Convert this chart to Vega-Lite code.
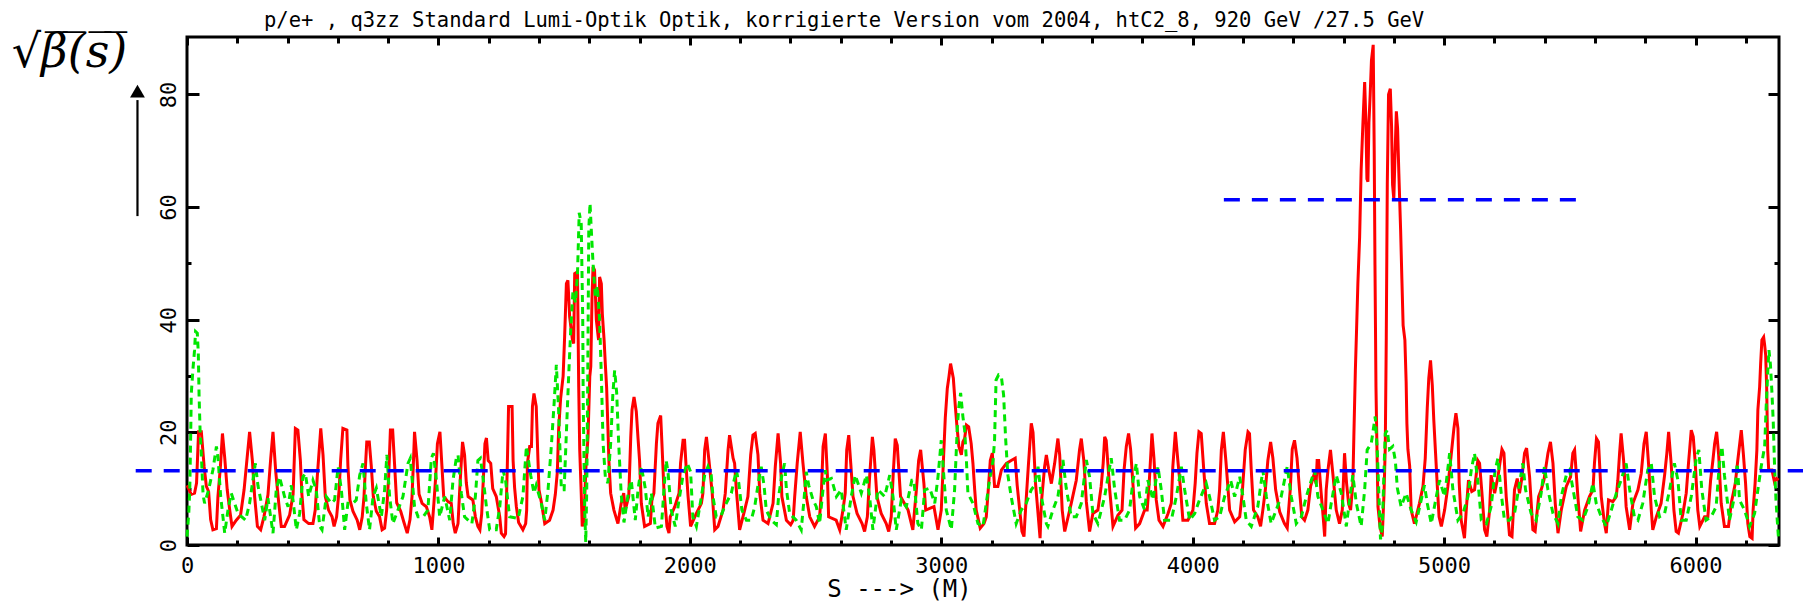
{
"$schema": "https://vega.github.io/schema/vega-lite/v6.json",
"width": 1592, "height": 508,
"autosize": {"type": "none"},
"padding": {"left": 187, "top": 37, "right": 24, "bottom": 57},
"background": "white",
"title": {"text": "p/e+ , q3zz Standard Lumi-Optik Optik, korrigierte Version vom 2004, htC2_8, 920 GeV /27.5 GeV", "anchor": "start", "frame": "group", "dx": 77, "dy": 30, "offset": 8, "baseline": "bottom", "font": "DejaVu Sans Mono", "fontSize": 20.5, "fontWeight": "normal", "color": "#000"},
"config": {
  "view": {"stroke": "#000", "strokeWidth": 3},
  "axis": {"grid": false, "domain": false, "tickColor": "#000", "labelColor": "#000", "titleColor": "#000", "labelFont": "DejaVu Sans Mono", "labelFontSize": 22, "tickWidth": 3}
},
"datasets": {
"red": [
{"s":0,"v":10.6},{"s":17,"v":9},{"s":30,"v":9.2},{"s":38,"v":11},{"s":46,"v":20.1},{"s":57,"v":20.1},{"s":68,"v":14},{"s":77,"v":10.4},{"s":86,"v":9.5},{"s":94,"v":4.5},{"s":103,"v":2.7},{"s":117,"v":2.9},{"s":123,"v":8.6},{"s":133,"v":14},{"s":141,"v":19.8},{"s":150,"v":15.5},{"s":160,"v":9.8},{"s":170,"v":6.2},{"s":179,"v":3.3},{"s":196,"v":4.4},{"s":213,"v":5.3},{"s":227,"v":9.8},{"s":237,"v":14.5},{"s":249,"v":20.1},{"s":260,"v":15},{"s":269,"v":8.6},{"s":280,"v":3.3},{"s":293,"v":2.7},{"s":306,"v":5},{"s":322,"v":8.9},{"s":333,"v":15.4},{"s":342,"v":20.1},{"s":353,"v":13},{"s":365,"v":7.4},{"s":375,"v":3.3},{"s":388,"v":3.3},{"s":408,"v":5.3},{"s":422,"v":9},{"s":431,"v":20.7},{"s":441,"v":20.4},{"s":451,"v":15},{"s":457,"v":9},{"s":465,"v":4.5},{"s":484,"v":3.8},{"s":501,"v":3.8},{"s":510,"v":6.2},{"s":518,"v":12},{"s":532,"v":20.7},{"s":541,"v":16},{"s":550,"v":8.6},{"s":563,"v":6.2},{"s":577,"v":5},{"s":585,"v":3.3},{"s":595,"v":5},{"s":605,"v":9.8},{"s":611,"v":15},{"s":620,"v":20.7},{"s":636,"v":20.4},{"s":640,"v":14},{"s":648,"v":8},{"s":660,"v":6},{"s":677,"v":4.4},{"s":687,"v":2.7},{"s":697,"v":5},{"s":704,"v":8.6},{"s":709,"v":13.3},{"s":715,"v":18.3},{"s":725,"v":18.3},{"s":733,"v":14},{"s":741,"v":8.6},{"s":753,"v":6},{"s":766,"v":5},{"s":776,"v":2.7},{"s":786,"v":3},{"s":794,"v":6.2},{"s":802,"v":12},{"s":809,"v":20.4},{"s":818,"v":20.4},{"s":826,"v":14},{"s":834,"v":7.5},{"s":850,"v":6},{"s":863,"v":4},{"s":876,"v":2.1},{"s":887,"v":4.5},{"s":895,"v":8.6},{"s":900,"v":14},{"s":905,"v":20.1},{"s":915,"v":15},{"s":923,"v":9},{"s":935,"v":7.4},{"s":952,"v":6.8},{"s":965,"v":5},{"s":974,"v":2.7},{"s":982,"v":7.4},{"s":989,"v":12},{"s":996,"v":18},{"s":1006,"v":20.1},{"s":1014,"v":14},{"s":1021,"v":8.6},{"s":1038,"v":7.7},{"s":1051,"v":7.4},{"s":1059,"v":3.8},{"s":1067,"v":2.1},{"s":1078,"v":3.8},{"s":1084,"v":9.2},{"s":1090,"v":14},{"s":1096,"v":18.3},{"s":1104,"v":16},{"s":1111,"v":11},{"s":1118,"v":8.6},{"s":1137,"v":8},{"s":1147,"v":5},{"s":1157,"v":3.3},{"s":1165,"v":2.7},{"s":1172,"v":5.5},{"s":1179,"v":12},{"s":1185,"v":18},{"s":1191,"v":19},{"s":1198,"v":15},{"s":1208,"v":14.5},{"s":1216,"v":10},{"s":1230,"v":8.6},{"s":1244,"v":5},{"s":1250,"v":2.1},{"s":1261,"v":1.5},
{"s":1267,"v":2},{"s":1274,"v":14},{"s":1279,"v":24.6},{"s":1293,"v":24.6},{"s":1297,"v":15},{"s":1303,"v":10.2},{"s":1310,"v":6.8},{"s":1319,"v":4},{"s":1336,"v":2.7},{"s":1347,"v":3.8},{"s":1351,"v":6.2},{"s":1354,"v":14.5},{"s":1363,"v":17.5},{"s":1370,"v":17.5},{"s":1374,"v":24.6},{"s":1380,"v":26.9},{"s":1389,"v":24.6},{"s":1396,"v":15},{"s":1400,"v":9.8},{"s":1409,"v":7.7},{"s":1423,"v":3.8},{"s":1442,"v":4.4},{"s":1456,"v":6.2},{"s":1465,"v":9},{"s":1473,"v":13},{"s":1478,"v":20.4},{"s":1486,"v":26},{"s":1496,"v":30},{"s":1502,"v":37},{"s":1509,"v":46.4},{"s":1515,"v":47},{"s":1522,"v":40.5},{"s":1533,"v":36.4},{"s":1538,"v":35.8},{"s":1542,"v":48.2},{"s":1553,"v":48.5},{"s":1558,"v":28},{"s":1562,"v":16.9},{"s":1568,"v":9.2},{"s":1572,"v":3.3},{"s":1579,"v":4.4},{"s":1586,"v":13.3},{"s":1595,"v":19.2},{"s":1602,"v":29.9},{"s":1606,"v":31.7},{"s":1611,"v":44},{"s":1615,"v":49.4},{"s":1621,"v":48.8},{"s":1628,"v":40},{"s":1637,"v":36.4},{"s":1641,"v":47.6},{"s":1648,"v":46.4},{"s":1652,"v":41},{"s":1659,"v":36.4},{"s":1664,"v":32},{"s":1669,"v":28},{"s":1674,"v":21},{"s":1678,"v":15},{"s":1685,"v":9.2},{"s":1698,"v":6.2},{"s":1714,"v":3.8},{"s":1727,"v":7.4},{"s":1737,"v":9.2},{"s":1743,"v":6.2},{"s":1757,"v":8.6},{"s":1765,"v":19.2},{"s":1770,"v":24},{"s":1778,"v":26.3},{"s":1787,"v":23.7},{"s":1794,"v":18.9},{"s":1800,"v":15},{"s":1807,"v":7.4},{"s":1820,"v":3.3},{"s":1843,"v":3.8},{"s":1849,"v":8},{"s":1857,"v":9.2},{"s":1867,"v":18},{"s":1873,"v":21.6},{"s":1884,"v":23},{"s":1889,"v":18},{"s":1897,"v":9.8},{"s":1909,"v":3.3},{"s":1917,"v":2.1},{"s":1922,"v":5},{"s":1940,"v":6.8},{"s":1957,"v":9.2},{"s":1963,"v":14.5},{"s":1973,"v":18.6},{"s":1979,"v":18.6},{"s":1986,"v":13.3},{"s":1993,"v":8.6},{"s":2003,"v":3.3},{"s":2026,"v":5.6},{"s":2046,"v":7.4},{"s":2052,"v":9.2},{"s":2059,"v":16.9},{"s":2066,"v":19.2},{"s":2076,"v":15},{"s":2089,"v":9.2},{"s":2099,"v":2.7},{"s":2112,"v":3.3},{"s":2132,"v":6.2},{"s":2141,"v":9.2},{"s":2152,"v":16.9},{"s":2158,"v":19.5},{"s":2172,"v":15.4},{"s":2178,"v":14.5},{"s":2185,"v":9.8},{"s":2198,"v":2.7},{"s":2218,"v":6.2},{"s":2231,"v":8.6},{"s":2242,"v":16},{"s":2251,"v":19.5},{"s":2260,"v":19.8},{"s":2271,"v":16},{"s":2278,"v":9.2},{"s":2291,"v":4.4},{"s":2311,"v":3.8},{"s":2331,"v":7.4},{"s":2340,"v":14},{"s":2351,"v":19.8},{"s":2361,"v":14.5},{"s":2366,"v":8.6},{"s":2384,"v":4.4},{"s":2401,"v":3.6},{"s":2411,"v":4.4},{"s":2417,"v":8.6},{"s":2427,"v":14.5},{"s":2439,"v":20.1},{"s":2450,"v":14.5},{"s":2463,"v":8.6},{"s":2477,"v":5},{"s":2496,"v":3.3},{"s":2516,"v":5},{"s":2523,"v":9.2},{"s":2530,"v":17.5},{"s":2539,"v":19.8},
{"s":2547,"v":12.4},{"s":2552,"v":5},{"s":2582,"v":4.4},{"s":2596,"v":2.7},{"s":2609,"v":6.2},{"s":2618,"v":9.2},{"s":2624,"v":16.9},{"s":2632,"v":19.5},{"s":2640,"v":14.5},{"s":2649,"v":8.6},{"s":2665,"v":5.6},{"s":2685,"v":3.8},{"s":2695,"v":2.4},{"s":2706,"v":5},{"s":2715,"v":12.1},{"s":2726,"v":19.2},{"s":2732,"v":16.9},{"s":2744,"v":8.6},{"s":2761,"v":5.6},{"s":2781,"v":3.8},{"s":2791,"v":2.4},{"s":2801,"v":5},{"s":2809,"v":12.7},{"s":2817,"v":18.9},{"s":2825,"v":17.7},{"s":2838,"v":8.6},{"s":2868,"v":6.2},{"s":2887,"v":2.7},{"s":2901,"v":9.8},{"s":2910,"v":15},{"s":2918,"v":16.9},{"s":2931,"v":10.9},{"s":2938,"v":6.2},{"s":2971,"v":6.8},{"s":2987,"v":2.7},{"s":3000,"v":6.2},{"s":3009,"v":15.4},{"s":3016,"v":22.6},{"s":3024,"v":27.8},{"s":3031,"v":30},{"s":3037,"v":32.2},{"s":3048,"v":29.6},{"s":3056,"v":24.6},{"s":3062,"v":21.3},{"s":3070,"v":17.5},{"s":3080,"v":16},{"s":3086,"v":18.3},{"s":3093,"v":18.9},{"s":3100,"v":21.3},{"s":3109,"v":21},{"s":3119,"v":18},{"s":3126,"v":14.5},{"s":3133,"v":9.8},{"s":3139,"v":6.2},{"s":3155,"v":3},{"s":3170,"v":3.8},{"s":3179,"v":5},{"s":3186,"v":9.2},{"s":3195,"v":15},{"s":3203,"v":16.3},{"s":3212,"v":10.4},{"s":3225,"v":10.4},{"s":3239,"v":13.3},{"s":3259,"v":14.5},{"s":3278,"v":15},{"s":3294,"v":15.4},{"s":3302,"v":10.6},{"s":3312,"v":6.2},{"s":3321,"v":2.4},{"s":3329,"v":1.5},{"s":3335,"v":6.2},{"s":3347,"v":14.5},{"s":3358,"v":21.6},{"s":3365,"v":20},{"s":3375,"v":10.9},{"s":3386,"v":5},{"s":3393,"v":1.2},{"s":3398,"v":7.4},{"s":3411,"v":13.9},{"s":3418,"v":16},{"s":3427,"v":13.5},{"s":3438,"v":10.9},{"s":3451,"v":14.5},{"s":3464,"v":18.9},{"s":3471,"v":16},{"s":3481,"v":6.2},{"s":3491,"v":2.4},{"s":3517,"v":7.4},{"s":3537,"v":11.5},{"s":3550,"v":16.9},{"s":3557,"v":18.9},{"s":3567,"v":15},{"s":3577,"v":7.7},{"s":3590,"v":2.4},{"s":3603,"v":5.6},{"s":3623,"v":6.2},{"s":3636,"v":10.4},{"s":3644,"v":14.5},{"s":3650,"v":19.2},{"s":3656,"v":18.6},{"s":3670,"v":9.8},{"s":3683,"v":3.3},{"s":3703,"v":5.3},{"s":3719,"v":6.2},{"s":3727,"v":13.3},{"s":3736,"v":17.5},{"s":3745,"v":19.8},{"s":3753,"v":17},{"s":3763,"v":10.4},{"s":3773,"v":3},{"s":3789,"v":3.8},{"s":3809,"v":6.2},
{"s":3819,"v":6.2},{"s":3827,"v":11},{"s":3838,"v":19.8},{"s":3846,"v":15.4},{"s":3855,"v":8},{"s":3866,"v":4.4},{"s":3882,"v":3.3},{"s":3902,"v":5.6},{"s":3915,"v":7.4},{"s":3921,"v":13.9},{"s":3931,"v":20.1},{"s":3941,"v":15},{"s":3952,"v":9.8},{"s":3961,"v":4.4},{"s":3981,"v":4.4},{"s":4001,"v":6.2},{"s":4010,"v":11},{"s":4017,"v":16.3},{"s":4025,"v":20.1},{"s":4034,"v":19.8},{"s":4043,"v":14},{"s":4054,"v":7.4},{"s":4067,"v":3.8},{"s":4087,"v":3.8},{"s":4100,"v":6.2},{"s":4107,"v":9.8},{"s":4114,"v":16.9},{"s":4122,"v":20.1},{"s":4132,"v":15},{"s":4147,"v":6.2},{"s":4167,"v":4.1},{"s":4187,"v":5},{"s":4197,"v":9.2},{"s":4209,"v":16.9},{"s":4220,"v":20.1},{"s":4226,"v":19.8},{"s":4233,"v":13.3},{"s":4242,"v":6.2},{"s":4259,"v":5},{"s":4270,"v":3.3},{"s":4279,"v":6.2},{"s":4289,"v":9.8},{"s":4299,"v":15},{"s":4310,"v":18.3},{"s":4319,"v":15.4},{"s":4330,"v":9.8},{"s":4346,"v":5.9},{"s":4365,"v":3.8},{"s":4376,"v":3},{"s":4388,"v":9.8},{"s":4396,"v":17},{"s":4405,"v":18.6},{"s":4415,"v":15.4},{"s":4425,"v":9.8},{"s":4434,"v":5},{"s":4445,"v":4.4},{"s":4458,"v":6.2},{"s":4469,"v":10.4},{"s":4482,"v":12.4},{"s":4491,"v":10.9},{"s":4495,"v":15},{"s":4501,"v":15},{"s":4511,"v":9.2},{"s":4519,"v":5},{"s":4525,"v":1.5},{"s":4531,"v":9.8},{"s":4538,"v":13.3},{"s":4548,"v":16.9},{"s":4558,"v":12.4},{"s":4571,"v":6.2},{"s":4584,"v":3.8},{"s":4595,"v":6.2},{"s":4604,"v":16.3},{"s":4612,"v":11},{"s":4620,"v":7.4},{"s":4628,"v":6.2},{"s":4637,"v":10.9},{"s":4641,"v":19.2},{"s":4647,"v":31},{"s":4652,"v":38.5},{"s":4657,"v":46.4},{"s":4664,"v":54.7},{"s":4670,"v":66.6},{"s":4677,"v":74.8},{"s":4684,"v":82.2},{"s":4689,"v":75},{"s":4693,"v":65},{"s":4697,"v":64.5},{"s":4701,"v":75},{"s":4706,"v":80},{"s":4711,"v":86},{"s":4718,"v":88.8},{"s":4722,"v":70},{"s":4725,"v":49.7},{"s":4729,"v":28},{"s":4733,"v":16.9},{"s":4737,"v":6.8},{"s":4745,"v":3.3},{"s":4754,"v":1.5},{"s":4761,"v":9.2},{"s":4766,"v":17.5},{"s":4770,"v":36.9},{"s":4774,"v":64},{"s":4779,"v":80},{"s":4786,"v":81},{"s":4791,"v":74.4},{"s":4795,"v":64},{"s":4800,"v":61.4},{"s":4804,"v":68},{"s":4810,"v":77},{"s":4815,"v":74},{"s":4820,"v":66},{"s":4827,"v":56},{"s":4832,"v":47.3},{"s":4837,"v":39},{"s":4844,"v":36.4},{"s":4849,"v":29},{"s":4852,"v":21.6},{"s":4856,"v":17},{"s":4863,"v":14},{"s":4869,"v":6.2},{"s":4882,"v":3.8},{"s":4902,"v":7.4},{"s":4916,"v":10.4},{"s":4925,"v":15.4},{"s":4933,"v":24.3},{"s":4939,"v":29.6},{"s":4946,"v":32.8},{"s":4953,"v":28.4},{"s":4959,"v":22.2},{"s":4966,"v":16.3},{"s":4973,"v":10.4},{"s":4980,"v":5},{"s":4989,"v":3.3},{"s":5002,"v":6.2},{"s":5015,"v":10.4},{"s":5028,"v":15.9},{"s":5039,"v":20.7},{"s":5047,"v":23.4},{"s":5055,"v":20.7},{"s":5060,"v":11},{"s":5068,"v":4.4},{"s":5081,"v":1.2},
{"s":5088,"v":6.2},{"s":5097,"v":11.5},{"s":5110,"v":9.5},{"s":5121,"v":9.8},{"s":5134,"v":15},{"s":5141,"v":14.5},{"s":5150,"v":9.5},{"s":5161,"v":2.7},{"s":5170,"v":1.5},{"s":5181,"v":6.2},{"s":5187,"v":12.4},{"s":5201,"v":9.2},{"s":5214,"v":12.1},{"s":5230,"v":17},{"s":5238,"v":16.3},{"s":5247,"v":8.6},{"s":5260,"v":1.8},{"s":5270,"v":1.5},{"s":5280,"v":9.8},{"s":5291,"v":11.8},{"s":5300,"v":9.2},{"s":5309,"v":11.8},{"s":5320,"v":16.3},{"s":5328,"v":17.2},{"s":5340,"v":12.1},{"s":5353,"v":2.7},{"s":5362,"v":2.4},{"s":5376,"v":8.6},{"s":5386,"v":9.8},{"s":5397,"v":11.5},{"s":5413,"v":16.3},{"s":5423,"v":18.3},{"s":5433,"v":14.5},{"s":5442,"v":7.4},{"s":5453,"v":2.1},{"s":5466,"v":6.2},{"s":5486,"v":10.4},{"s":5503,"v":12.1},{"s":5512,"v":16.3},{"s":5519,"v":16.9},{"s":5532,"v":8.6},{"s":5543,"v":2.4},{"s":5559,"v":6.2},{"s":5578,"v":8.6},{"s":5592,"v":9.8},{"s":5598,"v":14.5},{"s":5606,"v":18.9},{"s":5614,"v":18.3},{"s":5625,"v":8.6},{"s":5638,"v":3.8},{"s":5645,"v":2.1},{"s":5654,"v":8},{"s":5671,"v":7.7},{"s":5685,"v":8.6},{"s":5691,"v":11.5},{"s":5698,"v":16.3},{"s":5704,"v":19.8},{"s":5714,"v":15},{"s":5724,"v":6.8},{"s":5738,"v":2.7},{"s":5751,"v":7.4},{"s":5771,"v":9.8},{"s":5784,"v":12.7},{"s":5795,"v":18},{"s":5804,"v":20.1},{"s":5813,"v":14.5},{"s":5824,"v":6.2},{"s":5830,"v":2.7},{"s":5844,"v":5},{"s":5863,"v":7.4},{"s":5877,"v":12.4},{"s":5886,"v":16.3},{"s":5893,"v":20.1},{"s":5903,"v":14.5},{"s":5914,"v":6.2},{"s":5923,"v":2.4},{"s":5932,"v":2.1},{"s":5950,"v":5.6},{"s":5963,"v":9.2},{"s":5972,"v":14.5},{"s":5983,"v":20.4},{"s":5991,"v":19.2},{"s":5999,"v":14.5},{"s":6009,"v":6.2},{"s":6017,"v":3.3},{"s":6036,"v":5},{"s":6049,"v":5},{"s":6060,"v":11.5},{"s":6069,"v":15},{"s":6076,"v":18},{"s":6084,"v":20.1},{"s":6092,"v":16},{"s":6102,"v":7.4},{"s":6115,"v":3.3},{"s":6131,"v":3.3},{"s":6142,"v":7.4},{"s":6158,"v":10.9},{"s":6168,"v":15},{"s":6182,"v":20.4},{"s":6190,"v":16.3},{"s":6199,"v":11},{"s":6208,"v":3.8},{"s":6216,"v":1.5},{"s":6225,"v":1.2},{"s":6229,"v":6.2},{"s":6237,"v":11},{"s":6244,"v":16.9},{"s":6248,"v":24},{"s":6255,"v":28.1},{"s":6259,"v":32.2},{"s":6264,"v":36.4},{"s":6271,"v":36.9},{"s":6275,"v":35.5},{"s":6279,"v":33.7},{"s":6283,"v":27.8},{"s":6287,"v":16.9},{"s":6291,"v":13.3},{"s":6304,"v":13.3},{"s":6314,"v":11.2},{"s":6322,"v":11.8},{"s":6330,"v":11.5}
],
"green": [
{"s":0,"v":1.5},{"s":7,"v":5.6},{"s":11,"v":9.8},{"s":15,"v":20.4},{"s":17,"v":26.9},{"s":24,"v":31.4},{"s":30,"v":34.6},{"s":34,"v":37.9},{"s":41,"v":37.6},{"s":45,"v":34},{"s":48,"v":26.6},{"s":52,"v":20.4},{"s":57,"v":16},{"s":64,"v":8.9},{"s":70,"v":7.4},{"s":86,"v":9.8},{"s":103,"v":13.3},{"s":117,"v":17.5},{"s":123,"v":15.7},{"s":134,"v":8.6},{"s":143,"v":5},{"s":150,"v":2.1},{"s":163,"v":6.2},{"s":176,"v":9.2},{"s":203,"v":5.6},{"s":233,"v":4.4},{"s":249,"v":7.4},{"s":262,"v":11.5},{"s":272,"v":14.5},{"s":282,"v":10.6},{"s":296,"v":7.4},{"s":309,"v":4.4},{"s":322,"v":8.3},{"s":342,"v":2.1},{"s":355,"v":9.8},{"s":368,"v":12.1},{"s":388,"v":8.6},{"s":402,"v":6.8},{"s":415,"v":10.6},{"s":435,"v":2.7},{"s":448,"v":5.6},{"s":461,"v":12.1},{"s":471,"v":12.7},{"s":484,"v":8.6},{"s":501,"v":11.5},{"s":514,"v":9.8},{"s":528,"v":3.3},{"s":537,"v":2.7},{"s":554,"v":8.6},{"s":574,"v":7.4},{"s":587,"v":8},{"s":601,"v":13.9},{"s":614,"v":9.8},{"s":627,"v":2.7},{"s":640,"v":7.4},{"s":660,"v":7.4},{"s":673,"v":8},{"s":687,"v":12.4},{"s":700,"v":14.5},{"s":713,"v":7.4},{"s":726,"v":2.7},{"s":740,"v":8.6},{"s":753,"v":10.1},{"s":773,"v":5},{"s":786,"v":9.8},{"s":795,"v":16},{"s":806,"v":8.6},{"s":819,"v":3.8},{"s":839,"v":6.2},{"s":859,"v":8.6},{"s":879,"v":14.5},{"s":888,"v":15.4},{"s":905,"v":6.8},{"s":919,"v":5},{"s":939,"v":5},{"s":958,"v":6.2},{"s":972,"v":15.4},{"s":980,"v":16.3},{"s":992,"v":11.5},{"s":1005,"v":5},{"s":1025,"v":8.6},{"s":1045,"v":4.4},{"s":1058,"v":11.5},{"s":1071,"v":15.4},{"s":1078,"v":16},{"s":1091,"v":9.2},{"s":1104,"v":5},{"s":1133,"v":3.8},{"s":1147,"v":8.6},{"s":1157,"v":15},{"s":1167,"v":15.4},{"s":1177,"v":12.1},{"s":1191,"v":6.8},{"s":1204,"v":2.7},{"s":1230,"v":2.7},{"s":1244,"v":6.8},{"s":1257,"v":13.3},
{"s":1267,"v":11.5},{"s":1283,"v":5},{"s":1317,"v":4.7},{"s":1336,"v":8.6},{"s":1350,"v":17.5},{"s":1367,"v":12.4},{"s":1380,"v":9.2},{"s":1389,"v":10.6},{"s":1409,"v":7.4},{"s":1423,"v":4.4},{"s":1436,"v":9.8},{"s":1449,"v":17.5},{"s":1460,"v":25},{"s":1469,"v":32},{"s":1478,"v":24},{"s":1489,"v":9.8},{"s":1500,"v":9.8},{"s":1509,"v":20},{"s":1518,"v":30},{"s":1526,"v":38},{"s":1535,"v":45},{"s":1545,"v":43},{"s":1553,"v":48},{"s":1560,"v":59},{"s":1568,"v":57},{"s":1574,"v":40},{"s":1576,"v":25},{"s":1582,"v":6},{"s":1586,"v":0.5},{"s":1590,"v":10},{"s":1594,"v":30},{"s":1598,"v":56},{"s":1603,"v":60.7},{"s":1608,"v":56},{"s":1615,"v":50},{"s":1624,"v":44},{"s":1632,"v":46},{"s":1641,"v":40},{"s":1648,"v":30},{"s":1655,"v":18},{"s":1664,"v":12},{"s":1674,"v":11},{"s":1685,"v":18},{"s":1694,"v":27},{"s":1701,"v":31},{"s":1709,"v":27},{"s":1717,"v":18},{"s":1727,"v":9},{"s":1738,"v":4},{"s":1757,"v":9.8},{"s":1767,"v":11.5},{"s":1783,"v":4.4},{"s":1794,"v":9.8},{"s":1807,"v":14},{"s":1823,"v":10},{"s":1834,"v":5},{"s":1847,"v":9.2},{"s":1863,"v":3},{"s":1887,"v":3.3},{"s":1897,"v":9.8},{"s":1906,"v":15},{"s":1913,"v":13},{"s":1926,"v":6.2},{"s":1942,"v":3.3},{"s":1955,"v":7.4},{"s":1973,"v":12.4},{"s":1990,"v":14.5},{"s":2003,"v":13},{"s":2012,"v":5},{"s":2026,"v":3.3},{"s":2046,"v":8.6},{"s":2059,"v":12.4},{"s":2072,"v":13.9},{"s":2085,"v":12.4},{"s":2092,"v":8.6},{"s":2105,"v":5},{"s":2125,"v":5.3},{"s":2138,"v":6.8},{"s":2165,"v":9.2},{"s":2176,"v":11.5},{"s":2185,"v":13.3},{"s":2195,"v":10.9},{"s":2207,"v":6.2},{"s":2225,"v":4.4},{"s":2244,"v":4.4},{"s":2258,"v":6.8},{"s":2274,"v":11.5},{"s":2284,"v":13.9},{"s":2295,"v":10.6},{"s":2304,"v":6.2},{"s":2324,"v":4.4},{"s":2344,"v":3.6},{"s":2353,"v":8.6},{"s":2366,"v":12.4},{"s":2377,"v":14.5},{"s":2384,"v":10},{"s":2397,"v":5.6},{"s":2423,"v":4.4},{"s":2443,"v":2.7},{"s":2454,"v":8},{"s":2463,"v":13},{"s":2473,"v":10.6},{"s":2490,"v":8},{"s":2503,"v":6.8},{"s":2516,"v":3.8},{"s":2530,"v":10},{"s":2539,"v":13.3},
{"s":2543,"v":11.5},{"s":2563,"v":11.8},{"s":2583,"v":8.6},{"s":2602,"v":9.8},{"s":2622,"v":2.7},{"s":2642,"v":8.6},{"s":2658,"v":12.4},{"s":2682,"v":9.2},{"s":2702,"v":12.4},{"s":2715,"v":8.6},{"s":2728,"v":2.7},{"s":2748,"v":9.8},{"s":2775,"v":8.6},{"s":2795,"v":12.4},{"s":2808,"v":8.6},{"s":2821,"v":2.7},{"s":2841,"v":8},{"s":2861,"v":6.8},{"s":2883,"v":11.5},{"s":2891,"v":11.5},{"s":2907,"v":3.8},{"s":2921,"v":2.7},{"s":2934,"v":9.8},{"s":2954,"v":10.1},{"s":2974,"v":7.4},{"s":2987,"v":12.1},{"s":3000,"v":18.6},{"s":3009,"v":13},{"s":3020,"v":6.2},{"s":3040,"v":2.7},{"s":3053,"v":9.8},{"s":3064,"v":21},{"s":3070,"v":24.6},{"s":3077,"v":27},{"s":3086,"v":22.8},{"s":3093,"v":20.4},{"s":3100,"v":15},{"s":3106,"v":9.2},{"s":3126,"v":7.4},{"s":3146,"v":3.8},{"s":3166,"v":3.3},{"s":3179,"v":7.4},{"s":3192,"v":11.5},{"s":3206,"v":15},{"s":3212,"v":18.6},{"s":3218,"v":29.3},{"s":3228,"v":30.2},{"s":3239,"v":29.9},{"s":3248,"v":26.6},{"s":3256,"v":18.9},{"s":3265,"v":12.4},{"s":3278,"v":8.6},{"s":3298,"v":3.8},{"s":3318,"v":6.2},{"s":3338,"v":7.4},{"s":3358,"v":9.8},{"s":3371,"v":10.6},{"s":3385,"v":13.9},{"s":3398,"v":8.6},{"s":3418,"v":3.8},{"s":3424,"v":3.3},{"s":3444,"v":6.2},{"s":3464,"v":8.6},{"s":3484,"v":15.1},{"s":3497,"v":10.1},{"s":3517,"v":5},{"s":3537,"v":5},{"s":3557,"v":7.4},{"s":3577,"v":15.1},{"s":3590,"v":12.1},{"s":3603,"v":5.6},{"s":3623,"v":3.8},{"s":3650,"v":8.6},{"s":3663,"v":12.1},{"s":3676,"v":15.4},{"s":3690,"v":9.8},{"s":3709,"v":4.4},{"s":3729,"v":4.4},{"s":3749,"v":6.2},{"s":3763,"v":11.5},{"s":3776,"v":14.5},{"s":3789,"v":8.6},{"s":3809,"v":6.2},
{"s":3822,"v":11.5},{"s":3842,"v":8},{"s":3862,"v":13.9},{"s":3875,"v":9.8},{"s":3888,"v":4.4},{"s":3915,"v":4.4},{"s":3935,"v":8.6},{"s":3955,"v":13.9},{"s":3968,"v":9.8},{"s":3988,"v":4.4},{"s":4008,"v":5.6},{"s":4027,"v":8},{"s":4054,"v":10.9},{"s":4067,"v":8.6},{"s":4087,"v":4.4},{"s":4107,"v":5},{"s":4127,"v":8.6},{"s":4151,"v":11.5},{"s":4167,"v":8.6},{"s":4187,"v":12.1},{"s":4200,"v":8.6},{"s":4213,"v":4.4},{"s":4233,"v":3.3},{"s":4259,"v":6.8},{"s":4279,"v":13.3},{"s":4293,"v":8.6},{"s":4312,"v":3.8},{"s":4332,"v":6.2},{"s":4352,"v":8.6},{"s":4376,"v":13.9},{"s":4392,"v":8.6},{"s":4412,"v":3.8},{"s":4432,"v":5},{"s":4452,"v":8.6},{"s":4472,"v":11.5},{"s":4485,"v":13.3},{"s":4498,"v":8.6},{"s":4518,"v":6.2},{"s":4538,"v":3.8},{"s":4551,"v":7.4},{"s":4571,"v":12.4},{"s":4591,"v":9.2},{"s":4611,"v":3.3},{"s":4624,"v":8},{"s":4637,"v":12.4},{"s":4651,"v":7.4},{"s":4670,"v":3.3},{"s":4684,"v":9.8},{"s":4694,"v":16.9},{"s":4710,"v":18},{"s":4726,"v":22.8},{"s":4734,"v":16.9},{"s":4741,"v":8.6},{"s":4747,"v":1},{"s":4754,"v":3},{"s":4761,"v":13.3},{"s":4766,"v":19.8},{"s":4774,"v":20.4},{"s":4783,"v":17},{"s":4796,"v":17.5},{"s":4806,"v":15},{"s":4814,"v":10.1},{"s":4829,"v":6.8},{"s":4849,"v":9.2},{"s":4869,"v":6.2},{"s":4889,"v":4.1},{"s":4909,"v":8},{"s":4922,"v":10.6},{"s":4933,"v":7.4},{"s":4949,"v":3.8},{"s":4969,"v":8.6},{"s":4982,"v":11.5},{"s":5002,"v":8.6},{"s":5022,"v":16.3},{"s":5035,"v":9.8},{"s":5055,"v":4.4},{"s":5075,"v":5.6},
{"s":5095,"v":8.6},{"s":5108,"v":13.3},{"s":5121,"v":16.3},{"s":5137,"v":10.1},{"s":5148,"v":4.4},{"s":5168,"v":3.8},{"s":5187,"v":6.8},{"s":5203,"v":13.3},{"s":5214,"v":15.4},{"s":5227,"v":9.2},{"s":5240,"v":4.4},{"s":5260,"v":4.4},{"s":5280,"v":5.6},{"s":5300,"v":10.9},{"s":5313,"v":14.5},{"s":5324,"v":9.8},{"s":5346,"v":5.6},{"s":5366,"v":4.4},{"s":5386,"v":9.2},{"s":5399,"v":13.9},{"s":5413,"v":9.8},{"s":5433,"v":5.6},{"s":5453,"v":3.8},{"s":5466,"v":8.6},{"s":5486,"v":12.4},{"s":5499,"v":13.3},{"s":5512,"v":10.1},{"s":5532,"v":5},{"s":5552,"v":4.4},{"s":5572,"v":6.8},{"s":5592,"v":11},{"s":5605,"v":7.4},{"s":5625,"v":5},{"s":5645,"v":3.3},{"s":5665,"v":6.2},{"s":5685,"v":9.2},{"s":5704,"v":11.5},{"s":5724,"v":14.5},{"s":5738,"v":9.8},{"s":5757,"v":5},{"s":5771,"v":4.4},{"s":5790,"v":7.4},{"s":5810,"v":13.3},{"s":5824,"v":14.5},{"s":5837,"v":8.6},{"s":5857,"v":5},{"s":5877,"v":5.6},{"s":5897,"v":9.8},{"s":5916,"v":14.5},{"s":5930,"v":11.5},{"s":5943,"v":4.4},{"s":5963,"v":4.4},{"s":5983,"v":8.6},{"s":6003,"v":15.4},{"s":6013,"v":16.9},{"s":6025,"v":9.8},{"s":6042,"v":4.4},{"s":6062,"v":5},{"s":6082,"v":6.8},{"s":6095,"v":14.5},{"s":6105,"v":17.5},{"s":6115,"v":12.4},{"s":6135,"v":4.4},{"s":6155,"v":8.6},{"s":6166,"v":14.5},{"s":6175,"v":8},{"s":6195,"v":6.2},{"s":6215,"v":3.3},{"s":6235,"v":5.6},{"s":6248,"v":9.8},{"s":6261,"v":13.9},{"s":6275,"v":17.5},{"s":6281,"v":24.6},{"s":6288,"v":31.4},{"s":6292,"v":34.6},{"s":6298,"v":32},{"s":6304,"v":27},{"s":6309,"v":22},{"s":6314,"v":14.5},{"s":6320,"v":8},{"s":6325,"v":4.4},{"s":6330,"v":1.2}
],
"blue": [{"a": -204, "b": 6440, "v": 13.2}, {"a": 4124, "b": 5525, "v": 61.3}]
},
"layer": [
{
 "data": {"name": "red"},
 "mark": {"type": "line", "stroke": "#ff0000", "strokeWidth": 3},
 "encoding": {
  "x": {"field": "s", "type": "quantitative", "scale": {"domain": [0, 6332], "nice": false, "zero": false},
        "axis": {"orient": "bottom", "values": [0,200,400,600,800,1000,1200,1400,1600,1800,2000,2200,2400,2600,2800,3000,3200,3400,3600,3800,4000,4200,4400,4600,4800,5000,5200,5400,5600,5800,6000,6200],
                 "format": "d", "labelExpr": "datum.value % 1000 === 0 ? datum.label : ''",
                 "tickSize": {"condition": {"test": "datum.value % 1000 === 0", "value": -8}, "value": -5},
                 "labelPadding": 18, "labelFlush": false, "labelOverlap": false, "labelBound": false,
                 "title": "S  --->  (M)", "titleFont": "DejaVu Sans Mono", "titleFontSize": 24, "titleFontWeight": "normal",
                 "titleX": 712, "titleY": 44, "titleAlign": "center", "titleBaseline": "middle"}},
  "y": {"field": "v", "type": "quantitative", "scale": {"domain": [0, 90.2], "nice": false, "zero": false},
        "axis": {"orient": "left", "values": [0,10,20,30,40,50,60,80],
                 "labelExpr": "datum.value % 20 === 0 ? datum.label : ''",
                 "tickSize": {"condition": {"test": "datum.value % 20 === 0", "value": -12}, "value": -4},
                 "labelAngle": -90, "labelAlign": "center", "labelBaseline": "bottom", "labelPadding": 19, "labelOverlap": false, "labelFlush": false, "labelBound": false,
                 "title": "\u221a\u03b2\u0305(\u0305s\u0305)\u0305", "titleAngle": 0, "titleX": -118, "titleY": 15, "titleAlign": "center", "titleBaseline": "middle",
                 "titleFont": "DejaVu Serif", "titleFontSize": 46, "titleFontStyle": "italic", "titleFontWeight": "normal"}}
 }
},
{
 "data": {"name": "green"},
 "mark": {"type": "line", "stroke": "#00e600", "strokeWidth": 3, "strokeDash": [7, 5]},
 "encoding": {
  "x": {"field": "s", "type": "quantitative", "scale": {"domain": [0, 6332], "nice": false, "zero": false},
        "axis": {"orient": "top", "values": [0,200,400,600,800,1000,1200,1400,1600,1800,2000,2200,2400,2600,2800,3000,3200,3400,3600,3800,4000,4200,4400,4600,4800,5000,5200,5400,5600,5800,6000,6200],
                 "labels": false, "title": null,
                 "tickSize": {"condition": {"test": "datum.value % 1000 === 0", "value": -8}, "value": -6}}},
  "y": {"field": "v", "type": "quantitative", "scale": {"domain": [0, 90.2], "nice": false, "zero": false},
        "axis": {"orient": "right", "values": [0,10,20,30,40,50,60,80], "labels": false, "title": null,
                 "tickSize": {"condition": {"test": "datum.value % 20 === 0", "value": -11}, "value": -5}}}
 }
},
{
 "data": {"name": "blue"},
 "mark": {"type": "rule", "stroke": "#0000ff", "strokeWidth": 3.5, "strokeDash": [16, 12]},
 "encoding": {
  "x": {"field": "a", "type": "quantitative", "axis": null},
  "x2": {"field": "b"},
  "y": {"field": "v", "type": "quantitative", "axis": null}
 }
},
{
 "data": {"values": [{}]},
 "mark": {"type": "rule", "stroke": "#000", "strokeWidth": 2.2},
 "encoding": {
  "x": {"datum": -197, "type": "quantitative", "axis": null},
  "y": {"datum": 58.4, "type": "quantitative", "axis": null},
  "y2": {"datum": 79}
 }
},
{
 "data": {"values": [{}]},
 "mark": {"type": "point", "shape": "triangle-up", "filled": true, "fill": "#000", "stroke": null, "size": 220, "opacity": 1},
 "encoding": {
  "x": {"datum": -197, "type": "quantitative", "axis": null},
  "y": {"datum": 80.6, "type": "quantitative", "axis": null}
 }
}
],
"resolve": {"axis": {"x": "independent", "y": "independent"}}
}
